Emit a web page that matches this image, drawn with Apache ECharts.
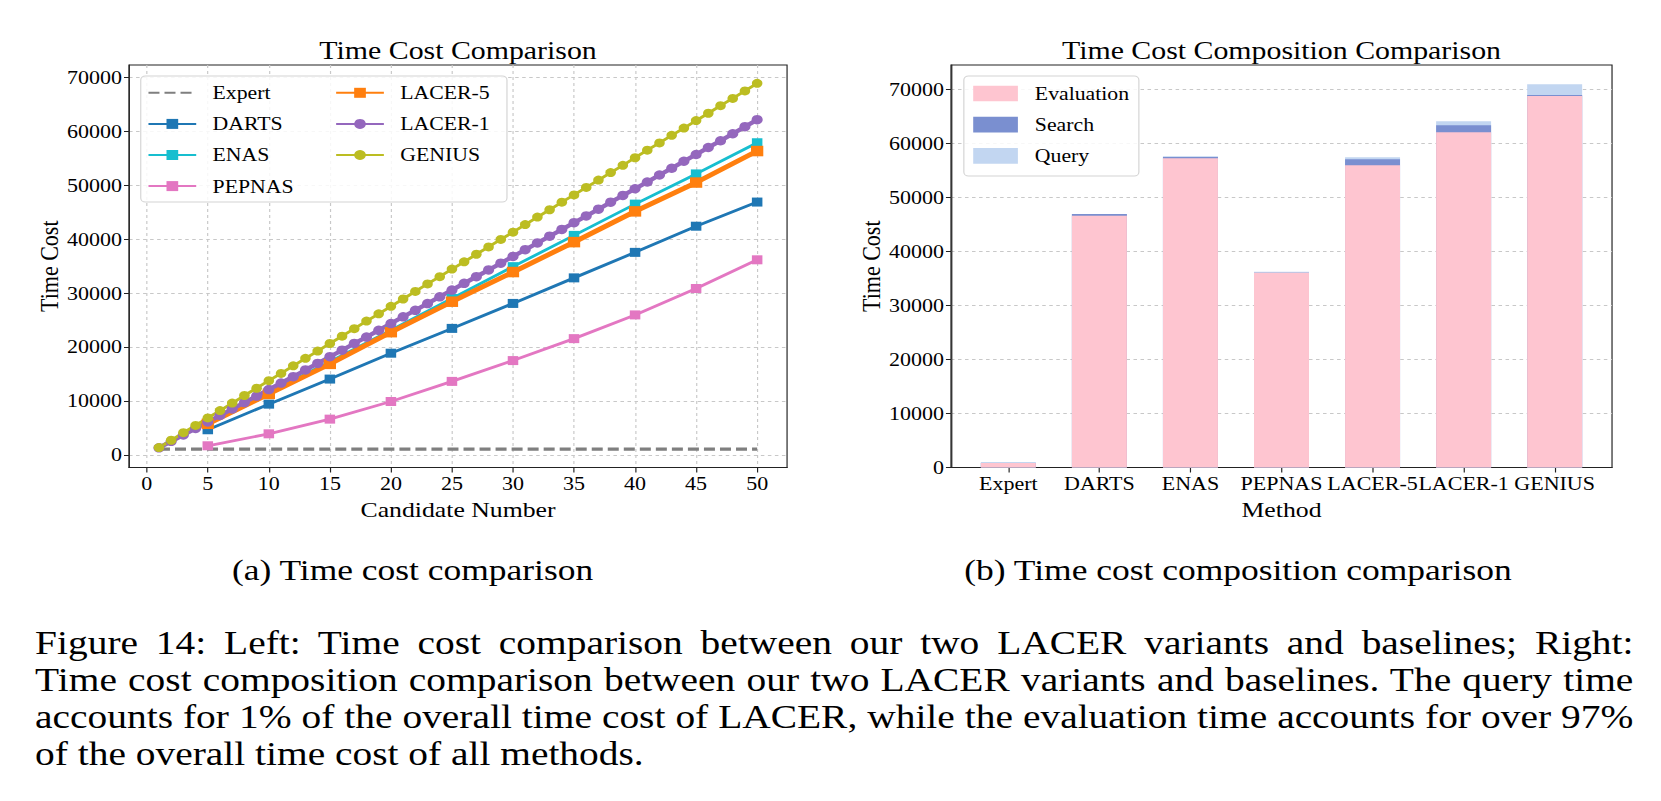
<!DOCTYPE html>
<html>
<head>
<meta charset="utf-8">
<title>Time Cost Comparison</title>
<script src="https://cdn.jsdelivr.net/npm/echarts@6/dist/echarts.min.js"></script>
<style>
html, body { margin: 0; padding: 0; background: #fff; overflow: hidden; }
/* the reference figure is stretched horizontally, so the page is drawn narrower and scaled */
#page { position: absolute; left: 0; top: 0; width: 1420px; height: 801px; transform: scaleX(1.17); transform-origin: 0 0; }
#main { position: absolute; left: 0; top: 0; width: 1420px; height: 801px; }
.cap { position: absolute; left: 30px; width: 1366px; font-family: 'Liberation Serif', serif; font-size: 33.7px; line-height: 37px; color: #000; white-space: nowrap; }
</style>
</head>
<body>
<div id="page">
	<div id="main"></div>
	<div class="cap" style="top:624px;"><span class="j">Figure 14: Left: Time cost comparison between our two LACER variants and baselines; Right:</span></div>
	<div class="cap" style="top:661px;"><span class="j">Time cost composition comparison between our two LACER variants and baselines. The query time</span></div>
	<div class="cap" style="top:698px;"><span class="j">accounts for 1% of the overall time cost of LACER, while the evaluation time accounts for over 97%</span></div>
	<div class="cap" style="top:735px;"><span>of the overall time cost of all methods.</span></div>
</div>
<script>
// ---- data: left chart ----
var candAll = [];
for (var i = 1; i <= 50; i++) candAll.push(i);
var candStep = [5, 10, 15, 20, 25, 30, 35, 40, 45, 50];
var candTicks = [0, 5, 10, 15, 20, 25, 30, 35, 40, 45, 50];
var costTicks = [0, 10000, 20000, 30000, 40000, 50000, 60000, 70000];

var expertX = [1, 50];
var expert = [1050, 1050];
var darts = [4650, 9400, 14050, 18850, 23450, 28080, 32820, 37550, 42400, 46880];
var enas = [5900, 11600, 17250, 23100, 29000, 34900, 40700, 46500, 52100, 57880];
var pepnas = [1680, 3900, 6620, 9890, 13620, 17480, 21550, 25950, 30850, 36170];
var lacer5 = [5750, 11300, 16870, 22750, 28400, 33900, 39450, 45150, 50500, 56340];
var lacer1 = [1300, 2500, 3700, 4900, 6100, 7300, 8500, 9700, 10900, 12100,
	13300, 14500, 15750, 16950, 18200, 19400, 20650, 21850, 23100, 24350,
	25600, 26800, 28050, 29300, 30550, 31800, 33050, 34300, 35550, 36800,
	38050, 39300, 40550, 41800, 43050, 44300, 45550, 46850, 48100, 49350,
	50600, 51900, 53150, 54450, 55700, 57000, 58250, 59550, 60850, 62150];
var genius = [1350, 2700, 4100, 5450, 6850, 8200, 9600, 11000, 12350, 13750,
	15100, 16500, 17900, 19250, 20650, 22000, 23400, 24800, 26150, 27550,
	28900, 30300, 31700, 33050, 34450, 35800, 37200, 38550, 39950, 41300,
	42700, 44100, 45450, 46850, 48200, 49600, 50950, 52350, 53700, 55100,
	56500, 57850, 59250, 60600, 62000, 63350, 64750, 66100, 67500, 68900];

// ---- data: right chart ----
var methods = ['Expert', 'DARTS', 'ENAS', 'PEPNAS', 'LACER-5', 'LACER-1', 'GENIUS'];
var methodPos = [0, 1, 2, 3, 4, 5, 6];
var evaluation = [850, 46650, 57300, 36050, 56000, 62100, 68800];
var search = [0, 300, 200, 0, 1100, 1300, 200];
var query = [150, 0, 150, 200, 370, 740, 2000];

// stacked tops (bars are overlaid, tallest at the back)
var evalSearch = evaluation.map(function(v, k) { return v + search[k]; });
var total = evalSearch.map(function(v, k) { return v + query[k]; });

function pairs(xs, ys) {
	return xs.map(function(x, k) { return [x, ys[k]]; });
}

var FONT = "'Liberation Serif', serif";
var AX = '#222';

function lineSeries(name, xs, ys, color, symbol, size, width) {
	return {
		name: name, type: 'line', xAxisIndex: 0, yAxisIndex: 0,
		data: pairs(xs, ys),
		symbol: symbol, symbolSize: size,
		itemStyle: { color: color },
		lineStyle: { color: color, width: width },
		emphasis: { disabled: true }
	};
}

function barSeries(name, ys, color) {
	return {
		name: name, type: 'bar', xAxisIndex: 1, yAxisIndex: 1,
		data: pairs(methodPos, ys), barWidth: 47, barGap: '-100%',
		itemStyle: { color: color },
		emphasis: { disabled: true }
	};
}

function valueAxis(o) {
	var base = {
		type: 'value',
		axisLine: { show: true, onZero: false, lineStyle: { color: AX, width: 1 } },
		axisTick: { show: true, inside: false, lineStyle: { color: AX } },
		axisLabel: { color: '#000', fontSize: 18.8, fontFamily: FONT, formatter: function(v) { return String(v); } },
		splitLine: { show: true, lineStyle: { color: '#c8c8c8', type: [3, 3], width: 1 } },
		nameLocation: 'middle',
		nameTextStyle: { fontSize: 22, fontFamily: FONT, color: '#000' }
	};
	return echarts.util.merge(base, o, true);
}

var chart = echarts.init(document.getElementById('main'), null, { renderer: 'svg' });

var series = [
	{
		name: 'Expert', type: 'line', xAxisIndex: 0, yAxisIndex: 0,
		data: pairs(expertX, expert), symbol: 'none',
		itemStyle: { color: '#7f7f7f' },
		lineStyle: { color: '#7f7f7f', width: 3.2, type: [9.4, 4.3] },
		emphasis: { disabled: true }
	},
	lineSeries('DARTS', candStep, darts, '#1f77b4', 'rect', 9, 2.8),
	lineSeries('ENAS', candStep, enas, '#17becf', 'rect', 9, 2.8),
	lineSeries('PEPNAS', candStep, pepnas, '#e377c2', 'rect', 9, 2.8),
	lineSeries('LACER-5', candStep, lacer5, '#ff7f0e', 'rect', 10.5, 4.8),
	lineSeries('LACER-1', candAll, lacer1, '#9467bd', 'circle', 9.5, 4.2),
	lineSeries('GENIUS', candAll, genius, '#bcbd22', 'circle', 9, 2.8),
	barSeries('Query', total, '#c2d6f1'),
	barSeries('Search', evalSearch, '#7a8fd0'),
	barSeries('Evaluation', evaluation, '#fec5d0')
];

var legendText = { fontSize: 18.6, fontFamily: FONT, color: '#000' };

chart.setOption({
	animation: false,
	textStyle: { fontFamily: FONT },
	title: [
		{ text: 'Time Cost Comparison', left: 391.5, top: 37, textAlign: 'center', padding: 0,
			textStyle: { fontSize: 25.5, fontWeight: 'normal', fontFamily: FONT, color: '#000' } },
		{ text: 'Time Cost Composition Comparison', left: 1095.3, top: 37, textAlign: 'center', padding: 0,
			textStyle: { fontSize: 25.5, fontWeight: 'normal', fontFamily: FONT, color: '#000' } }
	],
	grid: [
		{ left: 110.3, top: 65, width: 562.4, height: 402.5, show: true, borderColor: AX, borderWidth: 1 },
		{ left: 812.8, top: 65, width: 565, height: 402.5, show: true, borderColor: AX, borderWidth: 1 }
	],
	xAxis: [
		valueAxis({
			gridIndex: 0, min: -1.45, max: 52.45,
			axisTick: { length: 5, customValues: candTicks },
			axisLabel: { customValues: candTicks, margin: 7 },
			name: 'Candidate Number', nameGap: 29
		}),
		valueAxis({
			gridIndex: 1, min: -0.63, max: 6.63,
			axisTick: { length: 5, customValues: methodPos },
			axisLabel: { customValues: methodPos, margin: 7, formatter: function(v) { return methods[Math.round(v)]; } },
			splitLine: { show: false },
			name: 'Method', nameGap: 30
		})
	],
	yAxis: [
		valueAxis({
			gridIndex: 0, min: -2350, max: 72300,
			axisTick: { length: 4.3, customValues: costTicks },
			axisLabel: { customValues: costTicks, margin: 6 },
			name: 'Time Cost', nameGap: 56
		}),
		valueAxis({
			gridIndex: 1, min: 0, max: 74550,
			axisTick: { length: 4.3, customValues: costTicks },
			axisLabel: { customValues: costTicks, margin: 6 },
			name: 'Time Cost', nameGap: 55
		})
	],
	legend: [
		{ data: [{ name: 'Expert', itemStyle: { opacity: 0 } }, 'DARTS', 'ENAS', 'PEPNAS'],
			orient: 'vertical', left: 125.9, top: 83.3,
			itemWidth: 40.8, itemHeight: 12.5, itemGap: 12.1, padding: 0, selectedMode: false, z: 6,
			textStyle: echarts.util.extend({ padding: [0, 0, 0, 9] }, legendText) },
		{ data: ['LACER-5', 'LACER-1', 'GENIUS'], orient: 'vertical', left: 286.3, top: 83.3,
			itemWidth: 40.8, itemHeight: 12.5, itemGap: 12.1, padding: 0, selectedMode: false, z: 6,
			textStyle: echarts.util.extend({ padding: [0, 0, 0, 9] }, legendText) },
		{ data: ['Evaluation', 'Search', 'Query'], orient: 'vertical', left: 831.8, top: 84,
			itemWidth: 38.2, itemHeight: 15.7, itemGap: 12.15, padding: 0, icon: 'rect', selectedMode: false, z: 6,
			textStyle: echarts.util.extend({ padding: [0, 0, 0, 9.5] }, legendText) }
	],
	graphic: [
		{ type: 'rect', z: 5, shape: { x: 120.3, y: 76, width: 313, height: 126, r: 4 },
			style: { fill: 'rgba(255,255,255,0.85)', stroke: '#d4d4d4', lineWidth: 1 } },
		{ type: 'rect', z: 5, shape: { x: 823.8, y: 76, width: 149.6, height: 100, r: 4 },
			style: { fill: 'rgba(255,255,255,0.85)', stroke: '#d4d4d4', lineWidth: 1 } },
		{ type: 'text', x: 352.6, y: 569.5,
			style: { text: '(a) Time cost comparison', fontSize: 30.3, fontFamily: FONT, fill: '#000', align: 'center', verticalAlign: 'middle' } },
		{ type: 'text', x: 1058.1, y: 569.5,
			style: { text: '(b) Time cost composition comparison', fontSize: 30.3, fontFamily: FONT, fill: '#000', align: 'center', verticalAlign: 'middle' } }
	],
	series: series
});

// justify the caption lines by spreading the word gaps
var target = 1366;
document.querySelectorAll('.cap .j').forEach(function(span) {
	var gaps = (span.textContent.match(/ /g) || []).length;
	var w = span.offsetWidth;
	span.style.wordSpacing = ((target - w) / gaps) + 'px';
});
</script>
</body>
</html>
